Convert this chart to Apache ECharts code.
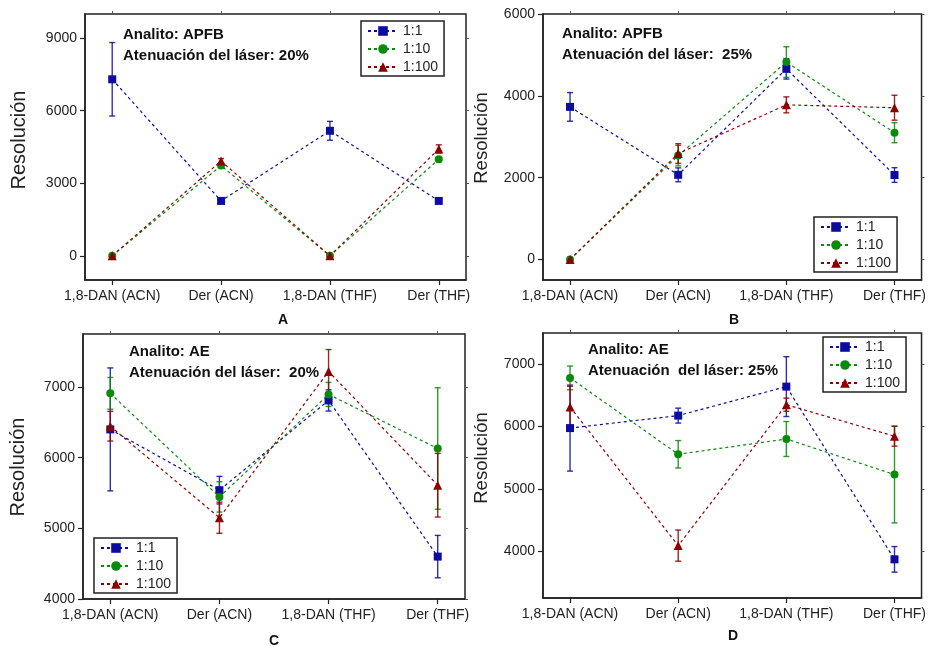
<!DOCTYPE html>
<html><head><meta charset="utf-8">
<script src="https://cdn.jsdelivr.net/npm/echarts@6/dist/echarts.min.js"></script>
<style>html,body{margin:0;padding:0;background:#fff}#c{width:929px;height:647px}</style>
</head><body><div id="c"></div>
<script>
const categories = ['1,8-DAN (ACN)', 'Der (ACN)', '1,8-DAN (THF)', 'Der (THF)'];
const seriesNames = ['1:1', '1:10', '1:100'];

// Panel A: APFB, 20%
const A_r1 = [7300, 2270, 5170, 2270];   const A_e1 = [1520, 80, 390, 80];
const A_r10 = [0, 3730, 0, 3990];        const A_e10 = [30, 100, 30, 100];
const A_r100 = [0, 3920, 0, 4420];       const A_e100 = [30, 100, 30, 170];
// Panel B: APFB, 25%
const B_r1 = [3730, 2070, 4660, 2065];   const B_e1 = [350, 170, 250, 180];
const B_r10 = [0, 2540, 4825, 3100];     const B_e10 = [20, 250, 375, 245];
const B_r100 = [0, 2590, 3780, 3710];    const B_e100 = [20, 240, 195, 305];
// Panel C: AE, 20%
const C_r1 = [6400, 5540, 6810, 4600];   const C_e1 = [870, 195, 150, 300];
const C_r10 = [6910, 5445, 6895, 6130];  const C_e10 = [225, 215, 170, 860];
const C_r100 = [6445, 5150, 7220, 5610]; const C_e100 = [210, 220, 310, 450];
// Panel D: AE, 25%
const D_r1 = [5975, 6175, 6640, 3870];   const D_e1 = [690, 120, 480, 205];
const D_r10 = [6780, 5555, 5800, 5230];  const D_e10 = [190, 220, 280, 775];
const D_r100 = [6315, 4090, 6350, 5845]; const D_e100 = [330, 250, 105, 160];

const yTicksA = [0, 3000, 6000, 9000];
const yTicksB = [0, 2000, 4000, 6000];
const yTicksC = [4000, 5000, 6000, 7000];
const yTicksD = [4000, 5000, 6000, 7000];

const colors = ['#0c0ca0', '#0a8a0a', '#8c0000'];
const symbols = ['rect', 'circle', 'triangle'];
const symSizes = [8, 8, 9];

const panels = [
  {grid: {left: 85, top: 14, width: 381, height: 266}, y: [-1000, 10000], ticks: yTicksA,
   vals: [[A_r1, A_e1], [A_r10, A_e10], [A_r100, A_e100]],
   t1: 'Analito: APFB', t2: 'Atenuación del láser: 20%', tx: 123, ty: 35,
   legend: {left: 361, top: 21}, ylab: {x: 19, y: 140, s: 20}, plab: {t: 'A', x: 283, y: 320}},
  {grid: {left: 543, top: 14, width: 382, height: 266}, y: [-500, 6000], ticks: yTicksB,
   vals: [[B_r1, B_e1], [B_r10, B_e10], [B_r100, B_e100]],
   t1: 'Analito: APFB', t2: 'Atenuación del láser:  25%', tx: 562, ty: 34,
   legend: {left: 814, top: 217}, ylab: {x: 482, y: 138, s: 18.5}, plab: {t: 'B', x: 734, y: 320}},
  {grid: {left: 83, top: 334, width: 382, height: 265}, y: [4000, 7750], ticks: yTicksC,
   vals: [[C_r1, C_e1], [C_r10, C_e10], [C_r100, C_e100]],
   t1: 'Analito: AE', t2: 'Atenuación del láser:  20%', tx: 129, ty: 352,
   legend: {left: 94, top: 538}, ylab: {x: 18, y: 467, s: 20}, plab: {t: 'C', x: 274, y: 641}},
  {grid: {left: 543, top: 333, width: 382, height: 265}, y: [3250, 7500], ticks: yTicksD,
   vals: [[D_r1, D_e1], [D_r10, D_e10], [D_r100, D_e100]],
   t1: 'Analito: AE', t2: 'Atenuación  del láser: 25%', tx: 588, ty: 350,
   legend: {left: 823, top: 337}, ylab: {x: 482, y: 458, s: 18.5}, plab: {t: 'D', x: 733, y: 636}}
];

const grids = [], xAxes = [], yAxes = [], series = [], legends = [], graphics = [];
const font = 'Liberation Sans, Arial, sans-serif';
const xTickVals = [0, 1, 2, 3];

panels.forEach((p, i) => {
  grids.push(Object.assign({show: true, borderColor: '#222', borderWidth: 1.5, backgroundColor: 'transparent'}, p.grid));
  xAxes.push({
    type: 'value', gridIndex: i, min: -0.25, max: 3.25,
    axisLine: {show: true, onZero: false, lineStyle: {color: '#222', width: 1.5}},
    axisTick: {show: true, customValues: xTickVals, length: 5, lineStyle: {color: '#222', width: 1.2}},
    axisLabel: {customValues: xTickVals, formatter: v => categories[Math.round(v)] || '', color: '#222', fontSize: 14, fontFamily: font, margin: 9},
    splitLine: {show: false}
  });
  yAxes.push({
    type: 'value', gridIndex: i, min: p.y[0], max: p.y[1],
    axisLine: {show: true, onZero: false, lineStyle: {color: '#222', width: 1.5}},
    axisTick: {show: true, customValues: p.ticks, length: 5, lineStyle: {color: '#222', width: 1.2}},
    axisLabel: {customValues: p.ticks, formatter: v => String(Math.round(v)), color: '#222', fontSize: 14, fontFamily: font, margin: 8},
    splitLine: {show: false}
  });
  p.vals.forEach((pair, k) => {
    const [vals, errs] = pair;
    series.push({
      type: 'custom', name: seriesNames[k] + '_err', xAxisIndex: i, yAxisIndex: i, z: 2 + k, silent: true,
      data: vals.map((v, j) => [j, v - errs[j], v + errs[j]]),
      renderItem: (params, api) => {
        const x = api.value(0);
        const lo = api.coord([x, api.value(1)]);
        const hi = api.coord([x, api.value(2)]);
        const w = 3;
        const st = {stroke: colors[k], lineWidth: 1.4, opacity: 0.85};
        return {type: 'group', children: [
          {type: 'line', shape: {x1: lo[0], y1: lo[1], x2: hi[0], y2: hi[1]}, style: st},
          {type: 'line', shape: {x1: lo[0] - w, y1: lo[1], x2: lo[0] + w, y2: lo[1]}, style: st},
          {type: 'line', shape: {x1: hi[0] - w, y1: hi[1], x2: hi[0] + w, y2: hi[1]}, style: st}
        ]};
      }
    });
    series.push({
      type: 'line', name: seriesNames[k], xAxisIndex: i, yAxisIndex: i, z: 5 + k,
      data: vals.map((v, j) => [j, v]),
      symbol: symbols[k], symbolSize: symSizes[k],
      itemStyle: {color: colors[k]},
      lineStyle: {color: colors[k], width: 1.2, type: [3, 3]},
      animation: false
    });
  });
  legends.push({
    show: true, data: seriesNames, orient: 'vertical', left: p.legend.left, top: p.legend.top,
    itemWidth: 30, itemHeight: 12, itemGap: 4, padding: [3, 6, 2, 6],
    borderColor: '#222', borderWidth: 1.5, backgroundColor: '#fff',
    textStyle: {fontSize: 14, color: '#222', fontFamily: font}, selectedMode: false
  });
  graphics.push({type: 'text', left: p.tx, top: p.ty - 10, z: 20,
    style: {text: p.t1 + '\n' + p.t2, font: 'bold 15px ' + font, fill: '#111', lineHeight: 20.5}});
  graphics.push({type: 'text', x: p.ylab.x, y: p.ylab.y, rotation: Math.PI / 2, z: 20,
    style: {text: 'Resolución', font: p.ylab.s + 'px ' + font, fill: '#222', align: 'center', verticalAlign: 'middle'}});
  graphics.push({type: 'text', x: p.plab.x, y: p.plab.y, z: 20,
    style: {text: p.plab.t, font: 'bold 14px ' + font, fill: '#111', align: 'center', verticalAlign: 'middle'}});
});

// secondary (mirror) axes: small ticks on top and right edges, no labels
panels.forEach((p, i) => {
  xAxes.push({
    type: 'value', gridIndex: i, position: 'top', min: -0.25, max: 3.25,
    axisLine: {show: false, onZero: false}, axisLabel: {show: false}, splitLine: {show: false},
    axisTick: {show: true, customValues: xTickVals, length: 3, lineStyle: {color: '#555', width: 1}}
  });
  yAxes.push({
    type: 'value', gridIndex: i, position: 'right', min: p.y[0], max: p.y[1],
    axisLine: {show: false, onZero: false}, axisLabel: {show: false}, splitLine: {show: false},
    axisTick: {show: true, customValues: p.ticks, length: 3, lineStyle: {color: '#555', width: 1}}
  });
});

const chart = echarts.init(document.getElementById('c'), null, {renderer: 'canvas'});
chart.setOption({
  animation: false,
  backgroundColor: '#fff',
  grid: grids, xAxis: xAxes, yAxis: yAxes, series: series, legend: legends, graphic: graphics
});
</script></body></html>
